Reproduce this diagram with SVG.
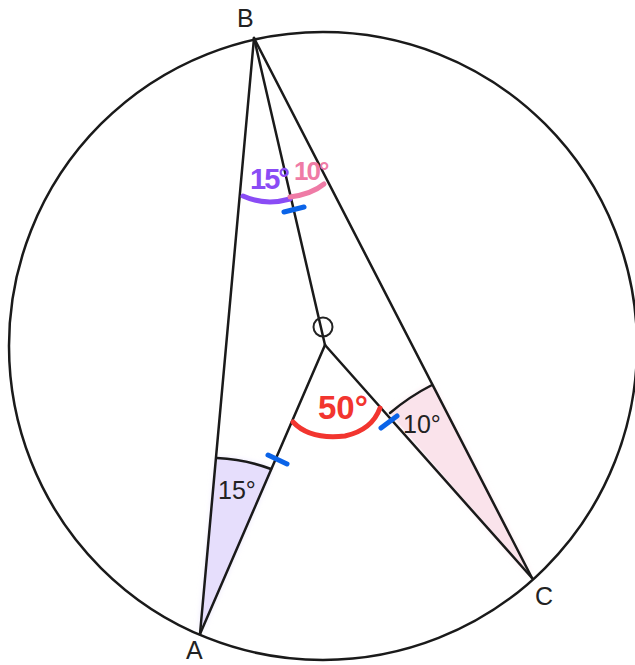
<svg xmlns="http://www.w3.org/2000/svg" width="635" height="665" viewBox="0 0 635 665">
<style>
.ln{stroke:#1a1a1a;stroke-width:2.5;fill:none;stroke-linecap:round}
.lbl{font-family:"Liberation Sans",Arial,sans-serif;font-size:25px;fill:#222}
.hw{font-family:"Liberation Sans",Arial,sans-serif;font-weight:bold}
.tick{stroke:#0a63e8;stroke-width:5;stroke-linecap:round;fill:none}
</style>
<defs>
<filter id="soft" x="-20%" y="-20%" width="140%" height="140%"><feGaussianBlur stdDeviation="3"/></filter>
</defs>
<rect width="635" height="665" fill="#fff"/>
<g id="wedges">
<path d="M532,578 L432,385 A218,218 0 0 0 390,413 Z" fill="#f9e0e9" filter="url(#soft)"/>
<path d="M532,578 L432,385 A218,218 0 0 0 390,413 Z" fill="#fae3eb"/>
<path d="M200,634 L217,458 A178,178 0 0 1 271,469 Z" fill="#e4dcfb" filter="url(#soft)"/>
<path d="M200,634 L217,458 A178,178 0 0 1 271,469 Z" fill="#e6defc"/>
<path d="M432,385 A218,218 0 0 0 390,413" class="ln" stroke-width="1.5"/>
<path d="M217,458 A178,178 0 0 1 271,469" class="ln" stroke-width="1.5"/>
</g>
<g id="circle"><circle cx="323" cy="346" r="314" class="ln"/></g>
<g id="connectors">
<line x1="254" y1="38" x2="200" y2="634" class="ln"/>
<line x1="254" y1="38" x2="532" y2="578" class="ln"/>
<line x1="254" y1="38" x2="325" y2="345" class="ln" stroke-width="5"/>
<line x1="325" y1="345" x2="200" y2="634" class="ln"/>
<line x1="325" y1="345" x2="532" y2="578" class="ln"/>
</g>
<g id="labels">
<text class="lbl" x="237" y="27">B</text>
<text class="lbl" x="186" y="659" font-size="24">A</text>
<text class="lbl" x="535" y="605">C</text>
<circle cx="323" cy="327" r="9.5" fill="none" stroke="#222" stroke-width="2"/>
<text class="lbl" x="218" y="499">15°</text>
<text class="lbl" x="403" y="433">10°</text>
</g>
<g id="marks">
<text class="hw" x="250" y="189" font-size="29" fill="#8a4cf5" letter-spacing="-2">15°</text>
<text class="hw" x="294" y="180" font-size="26" fill="#ef7ba6" letter-spacing="-2">10°</text>
<path d="M243,196 Q265,206 290,199" stroke="#8a4cf5" stroke-width="5" fill="none" stroke-linecap="round"/>
<path d="M290,197 Q312,194 324,184" stroke="#ef7ba6" stroke-width="5" fill="none" stroke-linecap="round"/>
<path d="M284,212 L304,207" class="tick"/>
<text class="hw" x="318" y="419" font-size="33" fill="#f2352f">50°</text>
<path d="M293,422 Q310,440 345,436 Q372,430 380,408" stroke="#f2352f" stroke-width="5" fill="none" stroke-linecap="round"/>
<path d="M268,455 L287,464" class="tick"/>
<path d="M381,428 L397,416" class="tick"/>
</g>
</svg>
